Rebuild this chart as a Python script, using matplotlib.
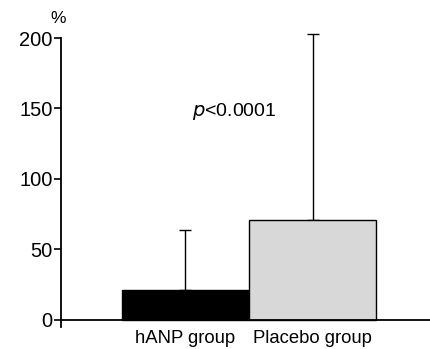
import matplotlib
matplotlib.use("Agg")
import matplotlib.pyplot as plt

# Data
groups = ["hANP group", "Placebo group"]
means = [21, 71]
sd_upper = [43, 132]
colors = ["black", "#d8d8d8"]

plt.rcParams['font.family'] = ['Liberation Sans', 'DejaVu Sans']

fig = plt.figure(figsize=(4.30, 3.49), dpi=100)
ax = fig.add_axes([61/430, (349-327)/349, 1 - 61/430, (327-38)/349])

x = [0, 1]
ax.bar(x, means, width=1.0, color=colors, edgecolor="black", linewidth=1.0, zorder=2)
eb = ax.errorbar(x, means, yerr=[[0, 0], sd_upper], fmt="none", ecolor="black",
                 elinewidth=1.0, capsize=4, capthick=1.0, zorder=1)
for art in eb.lines[1] + eb.lines[2]:
    art.set_clip_on(False)

ax.set_xlim(-0.98, 1.925)
ax.set_ylim(-5, 200)
ax.axhline(0, color="black", linewidth=1.3, zorder=3)

for s in ["top", "right", "bottom"]:
    ax.spines[s].set_visible(False)
ax.spines["left"].set_linewidth(1.3)
ax.spines["left"].set_bounds(-5, 200)

ax.set_yticks([0, 50, 100, 150, 200])
ax.tick_params(axis="y", direction="out", length=5, width=1.2, labelsize=14.5, pad=1)
ax.set_xticks(x)
ax.set_xticklabels(groups)
ax.tick_params(axis="x", length=0, labelsize=13.3, pad=2)

ax.text(-0.008, 1.04, "%", transform=ax.transAxes, fontsize=12.5, ha="center", va="bottom")
ax.text(0.38, 148, "$p$<0.0001", fontsize=14, ha="center", va="center")

fig.savefig("out.png", dpi=100)
